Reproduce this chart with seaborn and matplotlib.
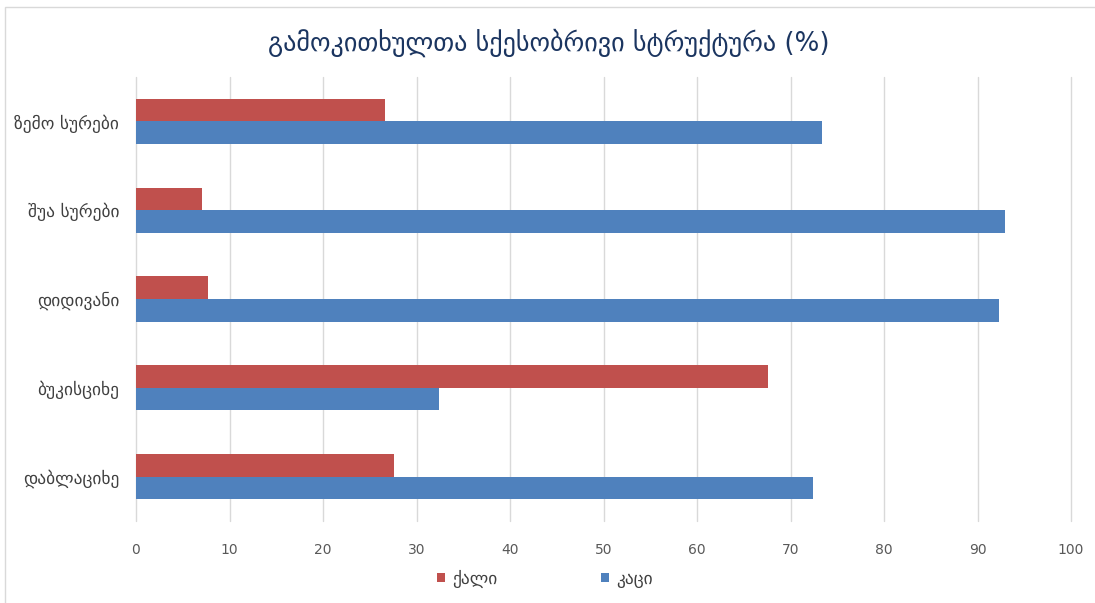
import matplotlib
matplotlib.use("Agg")
import matplotlib.pyplot as plt
from matplotlib.patches import Rectangle
import pandas as pd
import seaborn as sns

# Survey respondents by sex, per village (%)
villages = ["ზემო სურები", "შუა სურები", "დიდივანი", "ბუკისციხე", "დაბლაციხე"]
female = [26.6, 7.1, 7.7, 67.6, 27.6]
male = [73.4, 92.9, 92.3, 32.4, 72.4]
series_names = ["ქალი", "კაცი"]
x_ticks = [0, 10, 20, 30, 40, 50, 60, 70, 80, 90, 100]
title = "გამოკითხულთა სქესობრივი სტრუქტურა (%)"

colors = {"ქალი": "#C0504D", "კაცი": "#4F81BD"}

df = pd.DataFrame({
    "village": villages * 2,
    "sex": [series_names[0]] * len(villages) + [series_names[1]] * len(villages),
    "share": female + male,
})

sns.set_theme(style="white")
plt.rcParams["font.family"] = ["DejaVu Sans"]

W, H = 1095, 603
fig = plt.figure(figsize=(W / 100, H / 100), dpi=100)
ax = fig.add_axes([136 / W, 1 - 521 / H, (1071 - 136) / W, (521 - 77) / H])

sns.barplot(data=df, y="village", x="share", hue="sex", order=villages,
            hue_order=series_names, palette=colors, orient="h",
            width=0.51, gap=0, saturation=1, errorbar=None, ax=ax,
            edgecolor="none", linewidth=0)

ax.set_xlim(0, 100)
ax.set_ylim(4.5, -0.5)
ax.set_xticks(x_ticks)
ax.set_xticklabels([str(t) for t in x_ticks], fontsize=10, color="#595959")
ax.tick_params(axis="x", length=0, pad=16)
ax.tick_params(axis="y", length=0, pad=12, labelsize=12.5, labelcolor="#404040")
ax.set_xlabel("")
ax.set_ylabel("")
ax.grid(axis="x", color="#D9D9D9", linewidth=1)
ax.set_axisbelow(True)
for line in ax.get_xgridlines():
    line.set_clip_on(False)
for s in ax.spines.values():
    s.set_visible(False)

handles, labels = ax.get_legend_handles_labels()
ax.legend_.remove()
fig.legend(handles, labels, loc="center", bbox_to_anchor=(545 / W, 1 - 579 / H),
           ncol=2, frameon=False, fontsize=12.5, labelcolor="#404040",
           handlelength=0.45, handleheight=0.45, handletextpad=0.4,
           columnspacing=6.0)

fig.text(549 / W, 1 - 43 / H, title, ha="center", va="center",
         fontsize=18.8, color="#1B3560")

fig.patches.append(Rectangle((5 / W, -0.05), 1.1, 1 - 7 / H + 0.05,
                             transform=fig.transFigure, fill=False,
                             edgecolor="#D9D9D9", linewidth=1))

fig.savefig("out.png", dpi=100, facecolor="white")
